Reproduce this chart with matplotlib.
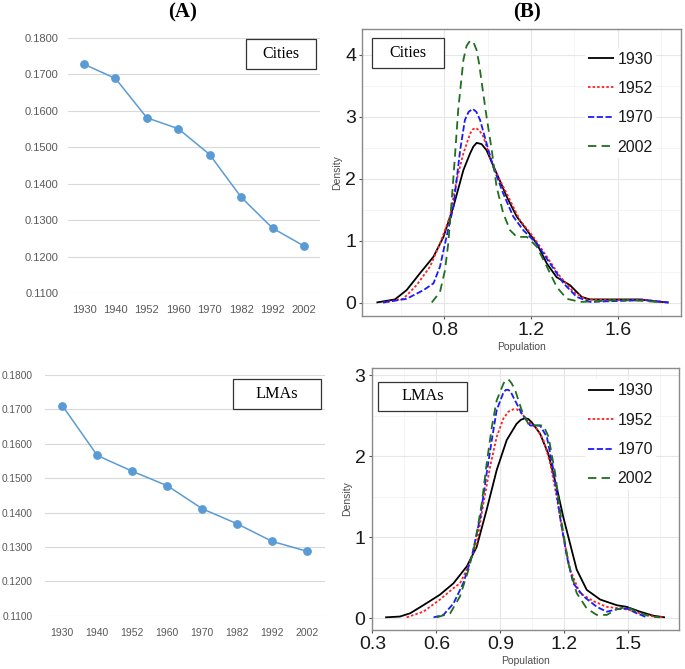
import matplotlib
matplotlib.use("Agg")
import matplotlib.pyplot as plt
from matplotlib.patches import Rectangle
from matplotlib.font_manager import FontProperties

# ---------------- data ----------------
years = ["1930", "1940", "1952", "1960", "1970", "1982", "1992", "2002"]
cities_index = [0.1728, 0.1689, 0.1581, 0.1551, 0.1480, 0.1363, 0.1278, 0.1229]
lmas_index = [0.1711, 0.1566, 0.1520, 0.1478, 0.1411, 0.1367, 0.1316, 0.1287]
index_ticks = [0.11, 0.12, 0.13, 0.14, 0.15, 0.16, 0.17, 0.18]
index_ticklabels = ["0.1100", "0.1200", "0.1300", "0.1400", "0.1500", "0.1600", "0.1700", "0.1800"]

density_years = ["1930", "1952", "1970", "2002"]

# Cities densities
cities_1930_x = [0.487, 0.572, 0.626, 0.687, 0.750, 0.796, 0.842, 0.888, 0.919, 0.934, 0.949, 0.972,
                 0.995, 1.041, 1.088, 1.134, 1.181, 1.227, 1.273, 1.318, 1.380, 1.434, 1.472, 1.550,
                 1.627, 1.703, 1.770, 1.834]
cities_1930_y = [0.00, 0.05, 0.20, 0.47, 0.74, 1.06, 1.55, 2.14, 2.41, 2.52, 2.58, 2.56,
                 2.46, 2.09, 1.71, 1.39, 1.17, 0.95, 0.63, 0.41, 0.28, 0.09, 0.05, 0.05,
                 0.05, 0.05, 0.02, 0.00]
cities_1952_x = [0.518, 0.611, 0.672, 0.734, 0.780, 0.826, 0.857, 0.888, 0.919, 0.932, 0.945, 0.962,
                 0.980, 1.026, 1.088, 1.149, 1.211, 1.273, 1.334, 1.396, 1.457, 1.550, 1.650, 1.720,
                 1.780, 1.834]
cities_1952_y = [0.00, 0.06, 0.28, 0.58, 0.95, 1.39, 1.98, 2.41, 2.73, 2.80, 2.82, 2.78,
                 2.68, 2.19, 1.76, 1.33, 1.06, 0.74, 0.42, 0.17, 0.05, 0.04, 0.04, 0.05,
                 0.02, 0.00]
cities_1970_x = [0.518, 0.626, 0.704, 0.750, 0.780, 0.803, 0.842, 0.873, 0.895, 0.912, 0.931, 0.948,
                 0.965, 0.995, 1.026, 1.072, 1.118, 1.164, 1.227, 1.288, 1.350, 1.411, 1.473, 1.550,
                 1.650, 1.720, 1.780, 1.834]
cities_1970_y = [0.00, 0.06, 0.20, 0.31, 0.58, 0.95, 1.55, 2.46, 2.95, 3.08, 3.13, 3.08,
                 2.95, 2.57, 2.19, 1.76, 1.39, 1.17, 0.95, 0.63, 0.31, 0.09, 0.01, 0.02,
                 0.03, 0.04, 0.02, 0.00]
cities_2002_x = [0.742, 0.780, 0.803, 0.818, 0.832, 0.849, 0.864, 0.888, 0.903, 0.919, 0.934, 0.949,
                 0.961, 0.973, 0.995, 1.019, 1.041, 1.072, 1.103, 1.134, 1.181, 1.227, 1.273, 1.319,
                 1.365, 1.427, 1.500, 1.600, 1.700, 1.780]
cities_2002_y = [0.00, 0.17, 0.52, 0.95, 1.55, 2.36, 3.11, 3.92, 4.15, 4.23, 4.21, 4.08,
                 3.85, 3.54, 3.00, 2.46, 1.87, 1.44, 1.17, 1.06, 1.06, 0.90, 0.58, 0.25,
                 0.06, 0.01, 0.02, 0.04, 0.03, 0.01]

# LMAs densities
lmas_1930_x = [0.360, 0.429, 0.477, 0.539, 0.617, 0.680, 0.743, 0.789, 0.836, 0.883, 0.930, 0.976,
               0.996, 1.016, 1.031, 1.047, 1.086, 1.125, 1.164, 1.195, 1.227, 1.258, 1.305, 1.368,
               1.446, 1.492, 1.555, 1.618, 1.672]
lmas_1930_y = [0.01, 0.02, 0.06, 0.16, 0.29, 0.43, 0.64, 0.88, 1.34, 1.83, 2.20, 2.40,
               2.45, 2.47, 2.46, 2.42, 2.28, 2.03, 1.62, 1.25, 0.92, 0.60, 0.35, 0.23,
               0.16, 0.14, 0.08, 0.03, 0.01]
lmas_1952_x = [0.461, 0.539, 0.617, 0.680, 0.711, 0.743, 0.789, 0.821, 0.852, 0.883, 0.915, 0.938,
               0.961, 0.977, 0.993, 1.024, 1.071, 1.102, 1.134, 1.164, 1.195, 1.227, 1.273, 1.336,
               1.399, 1.462, 1.508, 1.555, 1.618, 1.664]
lmas_1952_y = [0.01, 0.08, 0.23, 0.37, 0.43, 0.60, 0.92, 1.42, 1.87, 2.24, 2.47, 2.55,
               2.58, 2.58, 2.55, 2.45, 2.34, 2.20, 1.91, 1.50, 1.01, 0.60, 0.31, 0.21,
               0.14, 0.12, 0.10, 0.06, 0.02, 0.01]
lmas_1970_x = [0.587, 0.633, 0.680, 0.726, 0.766, 0.806, 0.836, 0.860, 0.883, 0.915, 0.926, 0.938,
               0.950, 0.961, 1.000, 1.040, 1.086, 1.118, 1.149, 1.180, 1.212, 1.242, 1.290, 1.352,
               1.399, 1.446, 1.492, 1.540, 1.587]
lmas_1970_y = [0.01, 0.04, 0.18, 0.43, 0.76, 1.25, 1.79, 2.20, 2.57, 2.79, 2.82, 2.82,
               2.79, 2.73, 2.53, 2.38, 2.38, 2.24, 1.83, 1.25, 0.76, 0.43, 0.27, 0.14,
               0.08, 0.11, 0.12, 0.06, 0.01]
lmas_2002_x = [0.602, 0.665, 0.711, 0.751, 0.781, 0.813, 0.836, 0.860, 0.883, 0.915, 0.926, 0.938,
               0.953, 0.969, 1.000, 1.031, 1.071, 1.102, 1.126, 1.157, 1.188, 1.219, 1.258, 1.305,
               1.352, 1.399, 1.446, 1.492, 1.540, 1.602, 1.649]
lmas_2002_y = [0.01, 0.06, 0.27, 0.60, 0.92, 1.42, 1.91, 2.36, 2.69, 2.90, 2.94, 2.95,
               2.90, 2.82, 2.57, 2.40, 2.38, 2.38, 2.24, 1.79, 1.17, 0.68, 0.31, 0.12,
               0.04, 0.04, 0.11, 0.14, 0.08, 0.02, 0.01]

cities_density = [(cities_1930_x, cities_1930_y), (cities_1952_x, cities_1952_y),
                  (cities_1970_x, cities_1970_y), (cities_2002_x, cities_2002_y)]
lmas_density = [(lmas_1930_x, lmas_1930_y), (lmas_1952_x, lmas_1952_y),
                (lmas_1970_x, lmas_1970_y), (lmas_2002_x, lmas_2002_y)]

# ---------------- styling ----------------
plt.rcParams["lines.scale_dashes"] = False
W, H = 685, 669
fig = plt.figure(figsize=(W / 100, H / 100), dpi=100)
fig.patch.set_facecolor("white")

SANS = "Liberation Sans"
SERIF = "Liberation Serif"

styles = [
    dict(color="black", lw=1.3, linestyle="-"),
    dict(color="#ff2020", lw=1.3, dashes=(1.8, 1.5)),
    dict(color="#1a1aff", lw=1.3, dashes=(4.5, 1.8)),
    dict(color="#1f6f1f", lw=1.3, dashes=(6.0, 3.8)),
]


def axes_px(l, t, r, b):
    return fig.add_axes([l / W, 1 - b / H, (r - l) / W, (b - t) / H])


def box_px(l, t, r, b, text, size):
    fig.add_artist(Rectangle((l / W, 1 - b / H), (r - l) / W, (b - t) / H,
                             transform=fig.transFigure, facecolor="white",
                             edgecolor="#333333", lw=0.9, zorder=5))
    fig.text((l + r) / 2 / W, 1 - (t + b) / 2 / H, text, ha="center", va="center",
             family=SERIF, fontsize=size, color="black", zorder=6)


def index_panel(rect, values, ysize, xsize, ypad, xpad):
    ax = axes_px(*rect)
    ax.plot(range(len(years)), values, color="#5B9BD5", lw=1.1, marker="o",
            markersize=5.3, clip_on=False, zorder=3)
    ax.set_xlim(-0.5, len(years) - 0.5)
    ax.set_ylim(index_ticks[0], index_ticks[-1])
    ax.set_yticks(index_ticks)
    ax.set_yticklabels(index_ticklabels)
    ax.set_xticks(range(len(years)))
    ax.set_xticklabels(years)
    ax.grid(axis="y", color="#d9d9d9", lw=0.8)
    ax.set_axisbelow(True)
    for s in ax.spines.values():
        s.set_visible(False)
    ax.tick_params(axis="y", length=0, labelsize=ysize, labelcolor="#595959", pad=ypad)
    ax.tick_params(axis="x", length=0, labelsize=xsize, labelcolor="#595959", pad=xpad)
    for lab in ax.get_xticklabels() + ax.get_yticklabels():
        lab.set_family(SANS)
    return ax


def density_panel(rect, series, xlim, ylim, xt, xminor, yt, yminor, leg_anchor, xlab_off, ylab_off):
    ax = axes_px(*rect)
    handles = []
    for (xs, ys), st in zip(series, styles):
        ln, = ax.plot(xs, ys, solid_capstyle="butt", dash_capstyle="butt",
                      solid_joinstyle="round", dash_joinstyle="round", **st)
        handles.append(ln)
    ax.set_xlim(*xlim)
    ax.set_ylim(*ylim)
    ax.set_xticks(xt)
    ax.set_xticks(xminor, minor=True)
    ax.set_yticks(yt)
    ax.set_yticks(yminor, minor=True)
    ax.set_xticklabels([f"{v:g}" for v in xt])
    ax.set_yticklabels([f"{v:g}" for v in yt])
    ax.grid(which="major", color="#e6e6e6", lw=0.8)
    ax.grid(which="minor", color="#f2f2f2", lw=0.6)
    ax.set_axisbelow(True)
    for s in ax.spines.values():
        s.set_color("#8a8a8a")
        s.set_linewidth(1.0)
    ax.tick_params(which="major", length=2.5, width=0.8, color="#555555",
                   labelsize=14, labelcolor="#1a1a1a", pad=2)
    ax.tick_params(which="minor", length=0)
    for lab in ax.get_xticklabels() + ax.get_yticklabels():
        lab.set_family(SANS)
    ax.set_xlabel("Population", family=SANS, fontsize=7.5, color="#4d4d4d")
    ax.set_ylabel("Density", family=SANS, fontsize=7.5, color="#4d4d4d")
    ax.xaxis.set_label_coords(0.5, xlab_off)
    ax.xaxis.label.set_va("center")
    ax.yaxis.set_label_coords(ylab_off, 0.5)
    ax.yaxis.label.set_va("center")
    leg = ax.legend(handles, density_years, loc="upper left", bbox_to_anchor=leg_anchor,
                    frameon=True, fancybox=False, edgecolor="none", facecolor="white",
                    framealpha=1, borderpad=0.2, borderaxespad=0, handlelength=1.6,
                    handletextpad=0.25, labelspacing=0.905,
                    prop=FontProperties(family=SANS, size=11.4))
    for t in leg.get_texts():
        t.set_color("#1a1a1a")
    return ax


# ---- panel A ----
index_panel((68.3, 38, 319.7, 293), cities_index, 8.0, 8.0, ypad=7, xpad=8.5)
index_panel((44.8, 375, 324.8, 615.7), lmas_index, 7.3, 7.5, ypad=8.5, xpad=8.5)
box_px(245.7, 39.3, 316, 69.3, "Cities", 11.4)
box_px(233, 379.3, 320.7, 409.3, "LMAs", 11.7)

# ---- panel B ----
density_panel((362.3, 29, 681, 315.7), cities_density, (0.4216, 1.892), (-0.213, 4.42),
              [0.8, 1.2, 1.6], [0.6, 1.0, 1.4, 1.8], [0, 1, 2, 3, 4], [0.5, 1.5, 2.5, 3.5],
              (0.699, 0.9325), -0.108, -0.080)
density_panel((371.7, 368, 679.3, 629.5), lmas_density, (0.297, 1.739), (-0.14, 3.09),
              [0.3, 0.6, 0.9, 1.2, 1.5], [0.45, 0.75, 1.05, 1.35, 1.65], [0, 1, 2, 3],
              [0.5, 1.5, 2.5], (0.694, 0.953), -0.120, -0.081)
box_px(372.3, 38.3, 443.7, 67.7, "Cities", 11.4)
box_px(378.3, 381.7, 466.7, 411, "LMAs", 11.7)

# ---- titles ----
fig.text(183 / W, 1 - 12 / H, "(A)", ha="center", va="center", family=SERIF,
         fontweight="bold", fontsize=15)
fig.text(527.5 / W, 1 - 12 / H, "(B)", ha="center", va="center", family=SERIF,
         fontweight="bold", fontsize=15)

fig.savefig("out.png", dpi=100, facecolor="white")
